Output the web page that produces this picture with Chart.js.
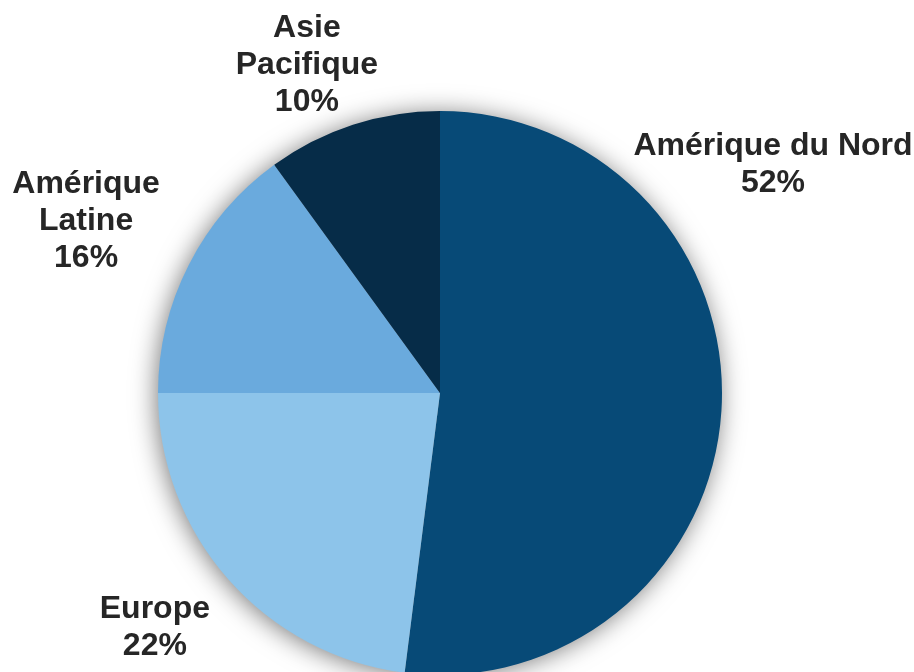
<!DOCTYPE html>
<html lang="fr">
<head>
  <meta charset="UTF-8">
  <title>Répartition par région</title>
  <script src="https://cdn.jsdelivr.net/npm/chart.js"></script>
  <style>
    html, body { margin: 0; padding: 0; background: #fff; overflow: hidden; }
    #wrap { position: relative; width: 914px; height: 700px; }
  </style>
</head>
<body>
  <div id="wrap"><canvas id="pie"></canvas></div>
  <script>
    // data (slice sizes from the drawn angles, percentages as printed)
    const regions = ["Amérique du Nord", "Europe", "Amérique Latine", "Asie Pacifique"];
    const labelLines = [["Amérique du Nord"], ["Europe"], ["Amérique", "Latine"], ["Asie", "Pacifique"]];
    const shares = [52, 23, 15, 10];
    const pctLabels = ["52%", "22%", "16%", "10%"];
    const colors = ["#074a77", "#8dc4ea", "#6aaadd", "#062c48"];

    // label anchors, in pie-radius units from the pie centre (first baseline)
    const labelAnchors = [[1.181, -0.844], [-1.011, 0.798], [-1.255, -0.709], [-0.472, -1.262]];

    const shadowPlugin = {
      id: "pieShadow",
      beforeDatasetsDraw(chart) {
        const arc = chart.getDatasetMeta(0).data[0];
        if (!arc) return;
        const ctx = chart.ctx;
        ctx.save();
        ctx.shadowColor = "rgba(0,0,0,0.55)";
        ctx.shadowBlur = 26;
        ctx.shadowOffsetX = -2;
        ctx.shadowOffsetY = 2;
        ctx.fillStyle = "#7a7a7a";
        ctx.beginPath();
        ctx.arc(arc.x, arc.y, arc.outerRadius - 1, 0, Math.PI * 2);
        ctx.fill();
        ctx.restore();
      }
    };

    const labelPlugin = {
      id: "sliceLabels",
      afterDatasetsDraw(chart) {
        const meta = chart.getDatasetMeta(0);
        const ctx = chart.ctx;
        ctx.save();
        ctx.font = "bold 32px 'Liberation Sans', Arial, sans-serif";
        ctx.fillStyle = "#262626";
        ctx.textAlign = "center";
        ctx.textBaseline = "alphabetic";
        meta.data.forEach((arc, i) => {
          const r = arc.outerRadius;
          const x = arc.x + labelAnchors[i][0] * r;
          let y = arc.y + labelAnchors[i][1] * r;
          labelLines[i].concat([pctLabels[i]]).forEach(t => { ctx.fillText(t, x, y); y += 37; });
        });
        ctx.restore();
      }
    };

    new Chart(document.getElementById("pie"), {
      type: "pie",
      data: {
        labels: regions,
        datasets: [{
          data: shares,
          backgroundColor: colors,
          borderWidth: 0
        }]
      },
      options: {
        responsive: true,
        maintainAspectRatio: false,
        animation: false,
        layout: { padding: { top: 111, bottom: 25, left: 158, right: 192 } },
        plugins: {
          legend: { display: false },
          tooltip: { enabled: false }
        }
      },
      plugins: [shadowPlugin, labelPlugin]
    });
  </script>
</body>
</html>
